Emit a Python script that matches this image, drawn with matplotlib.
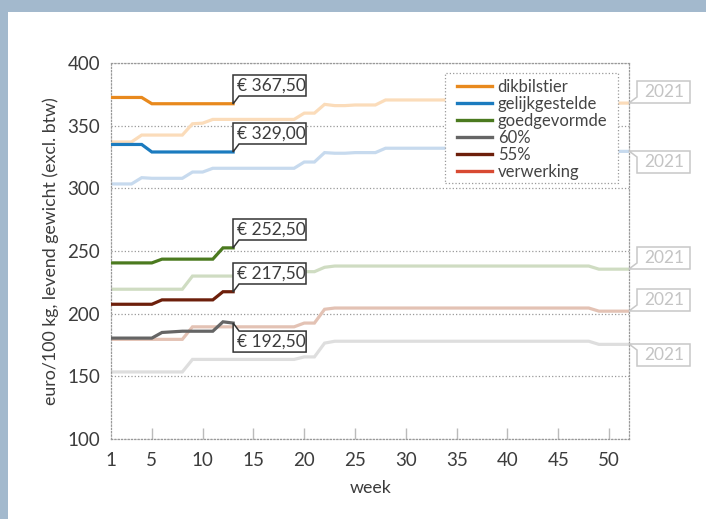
import matplotlib
matplotlib.use('Agg')
import matplotlib.pyplot as plt
from matplotlib.patches import Polygon, Rectangle
from matplotlib.lines import Line2D
from matplotlib.transforms import IdentityTransform

plt.rcParams['font.family'] = ['Lato', 'DejaVu Sans']

# weken
weeks_2021 = list(range(1, 53))
weeks_2022 = list(range(1, 14))

# 2021 (lichte lijnen)
dikbilstier_2021 = [337, 337, 337, 342.5, 342.5, 342.5, 342.5, 342.5, 351.5, 352,
                    355, 355, 355, 355, 355, 355, 355, 355, 355, 360,
                    360, 367, 366, 366, 366.5, 366.5, 366.5, 370.5, 370.5, 370.5,
                    370.5, 370.5, 370.5, 370.5, 370.5, 370.5, 370.5, 370.5, 370.5, 370.5,
                    370.5, 370.5, 370.5, 370.5, 370.5, 370.5, 370.5, 370.5, 368, 368,
                    368, 368]
gelijkgestelde_2021 = [303.5, 303.5, 303.5, 308.5, 308, 308, 308, 308, 313, 313,
                       316, 316, 316, 316, 316, 316, 316, 316, 316, 321,
                       321, 328.5, 328, 328, 328.5, 328.5, 328.5, 332, 332, 332,
                       332, 332, 332, 332, 332, 332, 332, 332, 332, 332,
                       332, 332, 332, 332, 332, 332, 332, 332, 329.5, 329.5,
                       329.5, 329.5]
goedgevormde_2021 = [219.5, 219.5, 219.5, 219.5, 219.5, 219.5, 219.5, 219.5, 230, 230,
                     230, 230, 230, 230, 230, 230, 230, 230, 230, 233.5,
                     233.5, 237, 238, 238, 238, 238, 238, 238, 238, 238,
                     238, 238, 238, 238, 238, 238, 238, 238, 238, 238,
                     238, 238, 238, 238, 238, 238, 238, 238, 235.5, 235.5,
                     235.5, 235.5]
pct55_2021 = [179.5, 179.5, 179.5, 179.5, 179.5, 179.5, 179.5, 179.5, 189.5, 189.5,
              189.5, 189.5, 189.5, 189.5, 189.5, 189.5, 189.5, 189.5, 189.5, 192.5,
              192.5, 203.5, 204.5, 204.5, 204.5, 204.5, 204.5, 204.5, 204.5, 204.5,
              204.5, 204.5, 204.5, 204.5, 204.5, 204.5, 204.5, 204.5, 204.5, 204.5,
              204.5, 204.5, 204.5, 204.5, 204.5, 204.5, 204.5, 204.5, 202, 202,
              202, 202]
pct60_2021 = [153.5, 153.5, 153.5, 153.5, 153.5, 153.5, 153.5, 153.5, 163.5, 163.5,
              163.5, 163.5, 163.5, 163.5, 163.5, 163.5, 163.5, 163.5, 163.5, 165.5,
              165.5, 176.5, 178, 178, 178, 178, 178, 178, 178, 178,
              178, 178, 178, 178, 178, 178, 178, 178, 178, 178,
              178, 178, 178, 178, 178, 178, 178, 178, 175.5, 175.5,
              175.5, 175.5]

# 2022 (donkere lijnen)
dikbilstier_2022 = [372.5, 372.5, 372.5, 372.5, 367.5, 367.5, 367.5, 367.5, 367.5, 367.5, 367.5, 367.5, 367.5]
gelijkgestelde_2022 = [335, 335, 335, 335, 329, 329, 329, 329, 329, 329, 329, 329, 329]
goedgevormde_2022 = [240.5, 240.5, 240.5, 240.5, 240.5, 243.5, 243.5, 243.5, 243.5, 243.5, 243.5, 252.5, 252.5]
pct60_2022 = [180.5, 180.5, 180.5, 180.5, 180.5, 185, 185.5, 186, 186, 186, 186, 193.5, 192.5]
pct55_2022 = [207.5, 207.5, 207.5, 207.5, 207.5, 211, 211, 211, 211, 211, 211, 217.5, 217.5]

labels = ['dikbilstier', 'gelijkgestelde', 'goedgevormde', '60%', '55%', 'verwerking']
dark = ['#e8891d', '#1b7bbf', '#4b7a1f', '#656565', '#6d1f0b', '#d84a32']
light = ['#fbdcba', '#c7daee', '#cfdcc2', '#dedede', '#e3c2b4']

fig = plt.figure(figsize=(7.06, 5.19), dpi=100, facecolor='#a3b9cd')
fig.add_artist(Rectangle((8 / 706, 0), 1, 507 / 519, transform=fig.transFigure,
                         facecolor='white', edgecolor='none', zorder=-10))
ax = fig.add_axes([111.2 / 706, 80 / 519, 518.2 / 706, 376 / 519])
ax.set_facecolor('white')

series_2021 = [dikbilstier_2021, gelijkgestelde_2021, goedgevormde_2021, pct60_2021, pct55_2021]
series_2022 = [dikbilstier_2022, gelijkgestelde_2022, goedgevormde_2022, pct60_2022, pct55_2022]
for vals, c in zip(series_2021, light):
    ax.plot(weeks_2021, vals, color=c, lw=2.3, solid_joinstyle='miter', zorder=2)
for vals, c in zip(series_2022, dark):
    ax.plot(weeks_2022, vals, color=c, lw=2.3, solid_joinstyle='miter', zorder=3)

ax.set_xlim(1, 52)
ax.set_ylim(100, 400)
ax.set_xticks([1, 5, 10, 15, 20, 25, 30, 35, 40, 45, 50])
ax.set_yticks([100, 150, 200, 250, 300, 350, 400])
for s in ax.spines.values():
    s.set_linestyle(':')
    s.set_color('#999999')
    s.set_linewidth(0.9)
ax.yaxis.grid(True, linestyle=':', color='#999999', lw=0.9)
ax.tick_params(axis='x', direction='in', length=8, width=1, color='#bbbbbb', pad=9,
               labelsize=13.5, labelcolor='#3c3c3c')
ax.tick_params(axis='y', length=0, pad=8, labelsize=13.5, labelcolor='#3c3c3c')
ax.xaxis.get_major_ticks()[0].tick1line.set_visible(False)
ax.set_ylabel('euro/100 kg, levend gewicht (excl. btw)', fontsize=12.8, color='#3c3c3c', labelpad=6)
ax.set_xlabel('week', fontsize=12.8, color='#3c3c3c', labelpad=8)

# legenda met gestippeld kader
ax.add_patch(Rectangle((0.644, 0.680), 0.334, 0.293, transform=ax.transAxes, facecolor='white',
                       edgecolor='#999999', ls=':', lw=0.9, zorder=4.5))
handles = [Line2D([], [], color=c, lw=2.4) for c in dark]
ax.legend(handles, labels, loc='upper left', bbox_to_anchor=(0.667, 0.958), frameon=False,
          borderpad=0, borderaxespad=0, handlelength=2.1, handletextpad=0.35,
          labelspacing=0.06, fontsize=12, labelcolor='#444444')


def callout_2022(vals, above=True):
    wk, val = weeks_2022[-1], vals[-1]
    text = '€ ' + f'{val:.2f}'.replace('.', ',')
    px, py = ax.transData.transform((wk, val))
    w, h, gap, notch = 73, 21, 8, 6
    if above:
        b = py + gap
        t = b + h
        verts = [(px, py), (px, t), (px + w, t), (px + w, b), (px + notch, b)]
    else:
        t = py - gap
        b = t - h
        verts = [(px, py), (px + notch, t), (px + w, t), (px + w, b), (px, b)]
    fig.add_artist(Polygon(verts, closed=True, facecolor='white', edgecolor='#333333', lw=1.1,
                           transform=IdentityTransform(), zorder=5))
    fig.text(px + 4, (b + t) / 2, text, transform=IdentityTransform(), ha='left', va='center',
             fontsize=12.5, color='#3c3c3c', zorder=6)


def callout_2021(vals, above=True):
    px, py = ax.transData.transform((weeks_2021[-1], vals[-1]))
    w, h, off, notch = 53, 22, 8, 6
    x0 = px + off
    if above:
        verts = [(px, py), (x0 + w, py), (x0 + w, py + h), (x0, py + h), (x0, py + notch)]
        cy = py + h / 2
    else:
        verts = [(px, py), (x0 + w, py), (x0 + w, py - h), (x0, py - h), (x0, py - notch)]
        cy = py - h / 2
    fig.add_artist(Polygon(verts, closed=True, facecolor='white', edgecolor='#c8c8c8', lw=1.1,
                           transform=IdentityTransform(), zorder=5))
    fig.text(x0 + w / 2, cy, '2021', transform=IdentityTransform(), ha='center', va='center',
             fontsize=12.5, color='#c4c4c4', zorder=6)


callout_2022(dikbilstier_2022)
callout_2022(gelijkgestelde_2022)
callout_2022(goedgevormde_2022)
callout_2022(pct55_2022)
callout_2022(pct60_2022, above=False)

callout_2021(dikbilstier_2021)
callout_2021(gelijkgestelde_2021, above=False)
callout_2021(goedgevormde_2021)
callout_2021(pct55_2021)
callout_2021(pct60_2021, above=False)

fig.savefig('out.png', dpi=100, facecolor=fig.get_facecolor())
